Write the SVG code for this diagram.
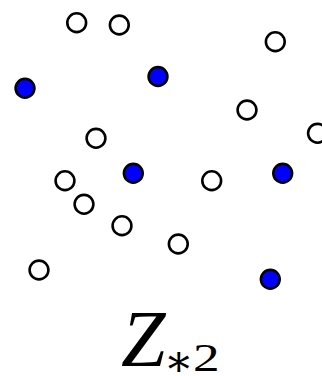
<svg xmlns="http://www.w3.org/2000/svg" width="322" height="376" viewBox="0 0 322 376">
<style>
.w{fill:#fff;stroke:#000;stroke-width:2.6}
.b{fill:#0000ff;stroke:#000;stroke-width:2.6}
.t{font-family:"Liberation Serif","Times New Roman",serif;fill:#000}
</style>
<rect width="322" height="376" fill="#fff"/>
<g id="connectors"></g>
<g id="n1"><circle class="w" cx="76.7" cy="22.7" r="9.4"/></g>
<g id="n2"><circle class="w" cx="119.3" cy="25" r="9.4"/></g>
<g id="n3"><circle class="b" cx="25" cy="88.3" r="9.4"/></g>
<g id="n4"><circle class="b" cx="158" cy="76.5" r="9.4"/></g>
<g id="n5"><circle class="w" cx="96" cy="138.3" r="9.4"/></g>
<g id="n6"><circle class="w" cx="275.3" cy="41.7" r="9.4"/></g>
<g id="n7"><circle class="w" cx="247" cy="110" r="9.4"/></g>
<g id="n8"><circle class="w" cx="317.5" cy="133.3" r="9.4"/></g>
<g id="n9"><circle class="w" cx="65" cy="180.7" r="9.4"/></g>
<g id="n10"><circle class="w" cx="84" cy="204.3" r="9.4"/></g>
<g id="n11"><circle class="w" cx="122" cy="225.7" r="9.4"/></g>
<g id="n12"><circle class="w" cx="39" cy="270" r="9.4"/></g>
<g id="n13"><circle class="b" cx="133.3" cy="173.3" r="9.4"/></g>
<g id="n14"><circle class="w" cx="211.7" cy="180.7" r="9.4"/></g>
<g id="n15"><circle class="b" cx="282.7" cy="173.3" r="9.4"/></g>
<g id="n16"><circle class="w" cx="178.3" cy="244" r="9.4"/></g>
<g id="n17"><circle class="b" cx="270.3" cy="279.3" r="9.4"/></g>
<g id="label">
<text class="t" x="121" y="366" font-size="80" font-style="italic">Z</text>
<text x="164" y="376" font-size="44" style="font-family:'DejaVu Serif',serif" fill="#000">∗</text>
<text class="t" transform="translate(193,371) scale(1.3,1)" x="0" y="0" font-size="41">2</text>
</g>
</svg>
